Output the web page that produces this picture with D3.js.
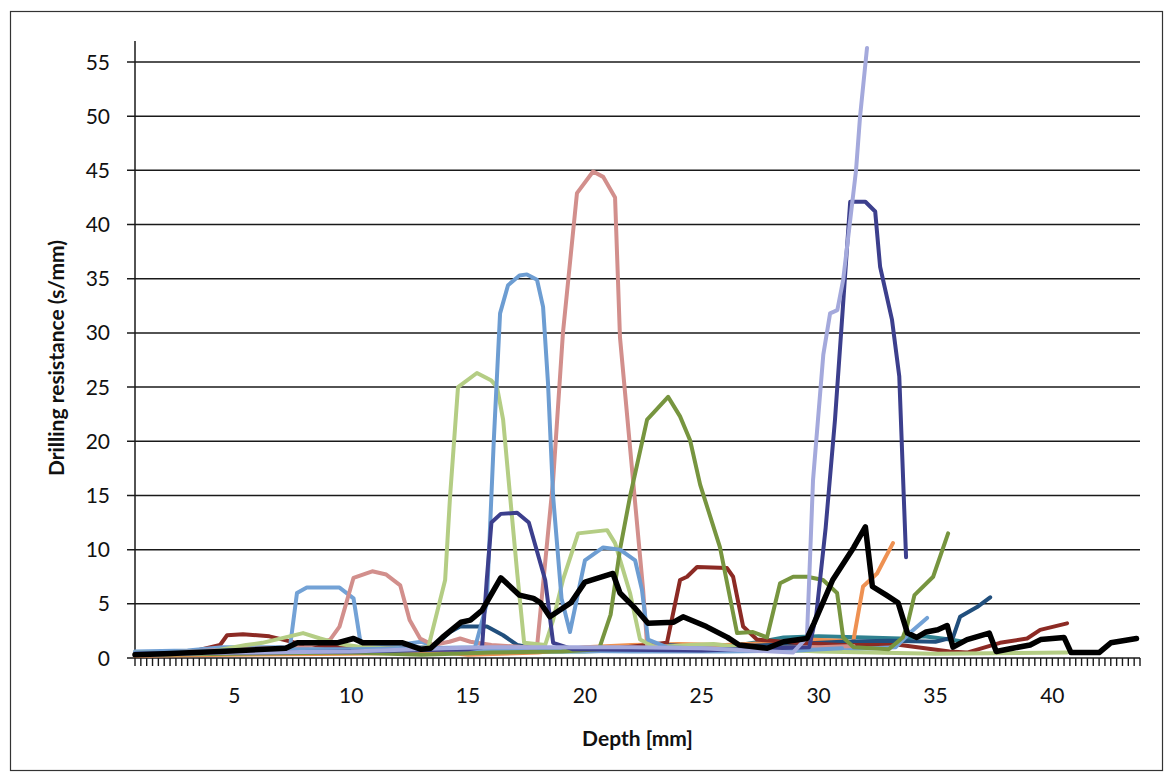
<!DOCTYPE html>
<html>
<head>
<meta charset="utf-8">
<script src="https://cdn.jsdelivr.net/npm/d3@7"></script>
<style>
  body { margin: 0; background: #fff; }
  text { font-family: Lato, "Open Sans", sans-serif; fill: #111; }
</style>
</head>
<body>
<script>
// tick labels
const depthLabels = [5, 10, 15, 20, 25, 30, 35, 40];
const resistanceLabels = [0, 5, 10, 15, 20, 25, 30, 35, 40, 45, 50, 55];

// each run is [depth mm, drilling resistance s/mm]
const steelRun = [[0.75,0.6],[3,0.7],[4.5,1.0],[6.5,1.0],[7.38,1.0],[7.68,6.0],[8.1,6.5],[9.5,6.5],[10.1,5.5],[10.4,1.4],[12,1.2],[13,1.5],[14,0.8],[18,0.7],[22,0.6],[26,0.6],[30,0.7],[33.3,1.0],[33.9,2.3],[34.64,3.7]];
const roseRun = [[0.75,0.4],[3,0.6],[5,0.8],[8,1.0],[9.1,1.7],[9.5,2.9],[10.1,7.4],[10.9,8.0],[11.5,7.7],[12.1,6.7],[12.5,3.5],[12.95,1.8],[13.5,1.2],[14.2,1.5],[14.66,1.8],[15.1,1.5],[16,1.2],[17.5,1.0],[17.95,1.0],[18.64,16.4],[19.06,30],[19.66,42.9],[20.35,44.9],[20.78,44.4],[21.29,42.5],[21.5,29.6],[22.06,16.4],[22.49,6.3],[22.66,1.2],[24,1.0],[27,0.9],[30,1.0],[31.5,1.1]];
const blueRun = [[0.75,0.5],[3,0.6],[6,0.8],[10,0.8],[13,0.9],[15.3,1.0],[15.8,5],[16.1,20],[16.37,31.8],[16.71,34.4],[17.2,35.3],[17.52,35.4],[17.95,34.9],[18.21,32.4],[18.42,25.4],[18.64,14.9],[19.0,5.5],[19.36,2.4],[20.0,9.0],[20.78,10.2],[21.5,10.0],[22.15,9.0],[22.44,6.3],[22.7,1.7],[23.5,1.0],[26,0.8],[29,0.7],[31,0.9]];
const limeRun = [[0.75,0.5],[4,0.6],[5.5,1.2],[6.2,1.4],[7.94,2.3],[8.67,1.8],[9.5,1.3],[10.5,1.0],[12.5,0.8],[13.3,1.0],[14.02,7.2],[14.23,14.9],[14.57,25],[15.38,26.3],[16.0,25.6],[16.24,25],[16.5,22],[16.8,14.9],[17.1,7.9],[17.4,1.4],[18.3,1.2],[18.64,3.5],[19.06,7.2],[19.71,11.5],[20.95,11.8],[21.29,10.6],[21.93,6.0],[22.36,1.7],[23,1.0],[24.5,1.2],[25.5,1.3],[27,0.9],[30,0.6],[35,0.4],[40.63,0.5]];
const navyRun = [[0.75,0.4],[5,0.5],[10,0.6],[15,0.8],[15.6,1.0],[15.8,7.2],[16.0,12.5],[16.4,13.3],[17.1,13.4],[17.6,12.5],[18.3,7.2],[18.64,1.4],[19.5,0.8],[25,0.7],[29.6,1.0],[29.9,4],[30.3,12],[30.7,22],[31.0,31.2],[31.35,42.1],[32.0,42.1],[32.42,41.2],[32.63,36.1],[33.14,31.2],[33.45,26],[33.74,9.3]];
const lavenderRun = [[0.75,0.3],[5,0.5],[10,0.6],[14,0.9],[16,1.0],[19,1.0],[22,1.0],[25,0.9],[27,0.7],[28.9,0.5],[29.5,1.9],[29.76,16.4],[30.2,28],[30.49,31.8],[30.8,32.1],[31.05,34.9],[31.35,40.4],[31.6,45],[31.77,49.9],[32.07,56.3]];
const oliveRun = [[0.75,0.3],[5,0.4],[10,0.5],[13,0.3],[16,0.5],[19,0.6],[20.6,0.8],[21.1,4],[21.5,10],[21.93,14.9],[22.66,22],[22.92,22.6],[23.56,24.1],[24.07,22.3],[24.5,20.1],[24.93,16],[25.78,10.2],[26.51,2.3],[27.19,2.4],[27.79,1.9],[28.35,6.9],[28.91,7.5],[29.51,7.5],[30.19,7.2],[30.79,6.0],[31.05,1.9],[31.5,1.0],[33,0.8],[33.6,1.9],[33.78,2.9],[34.1,5.8],[34.9,7.5],[35.54,11.5]];
const maroonRun = [[0.75,0.3],[3,0.5],[4.39,1.2],[4.69,2.1],[5.37,2.2],[6.5,2.0],[7.08,1.7],[8,1.2],[10,1.0],[14,0.8],[18,0.7],[21,0.8],[23.51,1.4],[24.07,7.2],[24.37,7.5],[24.8,8.4],[26.08,8.3],[26.34,7.5],[26.77,2.9],[27.36,1.7],[29,1.4],[31,1.2],[33.5,1.2],[35.6,0.6],[36.35,0.5],[37.76,1.4],[38.92,1.8],[39.48,2.6],[40.63,3.2]];
const orangeRun = [[0.75,0.2],[5,0.3],[10,0.4],[14,0.5],[15,0.3],[18,0.5],[20,1.0],[22,1.2],[24,1.3],[26,1.2],[28,1.4],[29.5,1.7],[31,1.6],[31.47,1.4],[31.9,6.6],[32.5,7.8],[33.18,10.6]];
const tealRun = [[0.75,0.3],[10,0.5],[15,0.6],[20,0.6],[23,0.8],[26,1.0],[27.5,1.5],[28.5,1.9],[30,2.0],[32,1.9],[33.5,1.8],[34.5,2.0],[35.62,1.7],[36.2,1.5]];
const inkRun = [[0.75,0.3],[8,0.6],[10,0.8],[13.5,1.0],[14.23,2.4],[14.66,2.9],[15.81,2.9],[16.5,2.1],[17.1,1.2],[18,0.8],[22,0.8],[23.5,1.2],[25,1.0],[28,1.2],[31,1.5],[33,1.6],[35,1.5],[35.75,1.9],[36.05,3.8],[36.78,4.7],[37.34,5.6]];
const meanRun = [[0.75,0.3],[2,0.4],[4.4,0.6],[7.2,0.9],[7.7,1.4],[9.4,1.4],[10.1,1.8],[10.5,1.4],[12.2,1.4],[13,0.8],[13.4,0.9],[13.9,1.9],[14.7,3.3],[15.1,3.5],[15.6,4.4],[16.4,7.4],[17.2,5.8],[17.8,5.5],[18.1,5.1],[18.5,3.8],[19.4,5.1],[20,7.0],[21.2,7.8],[21.5,6.0],[22.1,4.7],[22.7,3.2],[23.8,3.3],[24.2,3.8],[25.2,2.9],[26.1,1.9],[26.6,1.2],[27.8,0.9],[28.5,1.5],[29.5,1.8],[29.8,3.2],[30.6,7.2],[31.5,10.2],[32,12.1],[32.3,6.6],[32.9,5.8],[33.4,5.1],[33.8,2.3],[34.2,1.9],[34.6,2.4],[35.1,2.6],[35.5,3.0],[35.75,1.0],[36.35,1.7],[37.3,2.3],[37.6,0.6],[38.3,0.9],[39.05,1.2],[39.5,1.7],[40.5,1.9],[40.8,0.5],[42,0.5],[42.5,1.4],[43.6,1.8]];

// drawing order, low lines first, mean on top
const runs = [
  { values: tealRun,     color: "#2f8190", width: 4 },
  { values: orangeRun,   color: "#ee9152", width: 4 },
  { values: inkRun,      color: "#214f7d", width: 4 },
  { values: maroonRun,   color: "#8c2a24", width: 4 },
  { values: steelRun,    color: "#73a2d6", width: 4 },
  { values: roseRun,     color: "#d28f8c", width: 4 },
  { values: limeRun,     color: "#b4cd84", width: 4 },
  { values: oliveRun,    color: "#77953f", width: 4 },
  { values: blueRun,     color: "#6d9dd2", width: 4 },
  { values: navyRun,     color: "#3c3f8d", width: 4 },
  { values: lavenderRun, color: "#a4a9dc", width: 4 },
  { values: meanRun,     color: "#000000", width: 5.5 }
];

const W = 1168, H = 776;
const plot = { left: 135, right: 1140, top: 41, bottom: 658 };

const svg = d3.select("body").append("svg")
    .attr("width", W)
    .attr("height", H);

// outer frame of the chart
svg.append("rect")
    .attr("x", 10.5).attr("y", 11.5)
    .attr("width", 1152).attr("height", 759)
    .attr("fill", "none")
    .attr("stroke", "#333")
    .attr("stroke-width", 1.2);

const x = d3.scaleLinear().domain([0.75, 43.75]).range([plot.left, plot.right]);
const y = d3.scaleLinear().domain([0, 55]).range([plot.bottom, 62]);

// horizontal gridlines + y ticks
svg.append("g").selectAll("line")
    .data(resistanceLabels)
  .enter().append("line")
    .attr("x1", plot.left - 8).attr("x2", plot.right)
    .attr("y1", d => y(d)).attr("y2", d => y(d))
    .attr("stroke", "#1a1a1a")
    .attr("stroke-width", 1.5);

svg.append("g").selectAll("text")
    .data(resistanceLabels)
  .enter().append("text")
    .attr("x", 110)
    .attr("y", d => y(d))
    .attr("dy", "0.36em")
    .attr("text-anchor", "end")
    .style("font-size", "21px")
    .text(d => d);

// y axis line
svg.append("line")
    .attr("x1", plot.left).attr("x2", plot.left)
    .attr("y1", plot.top).attr("y2", plot.bottom)
    .attr("stroke", "#1a1a1a")
    .attr("stroke-width", 1.5);

// dense category ticks under the x axis
const minorTicks = d3.range(0.75, 43.76, 0.25);
svg.append("g").selectAll("line")
    .data(minorTicks)
  .enter().append("line")
    .attr("x1", d => x(d)).attr("x2", d => x(d))
    .attr("y1", plot.bottom).attr("y2", plot.bottom + 8)
    .attr("stroke", "#1a1a1a")
    .attr("stroke-width", 1.4);

svg.append("g").selectAll("text")
    .data(depthLabels)
  .enter().append("text")
    .attr("x", d => x(d))
    .attr("y", 703)
    .attr("text-anchor", "middle")
    .style("font-size", "21px")
    .text(d => d);

// the runs
const line = d3.line()
    .x(d => x(d[0]))
    .y(d => y(d[1]));

svg.append("g").selectAll("path")
    .data(runs)
  .enter().append("path")
    .attr("d", d => line(d.values))
    .attr("fill", "none")
    .attr("stroke", d => d.color)
    .attr("stroke-width", d => d.width)
    .attr("stroke-linejoin", "round")
    .attr("stroke-linecap", "round");

// axis titles
svg.append("text")
    .attr("x", (plot.left + plot.right) / 2)
    .attr("y", 746)
    .attr("text-anchor", "middle")
    .style("font-size", "21px")
    .style("font-weight", "bold")
    .text("Depth [mm]");

svg.append("text")
    .attr("transform", "translate(64,358) rotate(-90)")
    .attr("text-anchor", "middle")
    .style("font-size", "21px")
    .style("font-weight", "bold")
    .text("Drilling resistance (s/mm)");
</script>
</body>
</html>
